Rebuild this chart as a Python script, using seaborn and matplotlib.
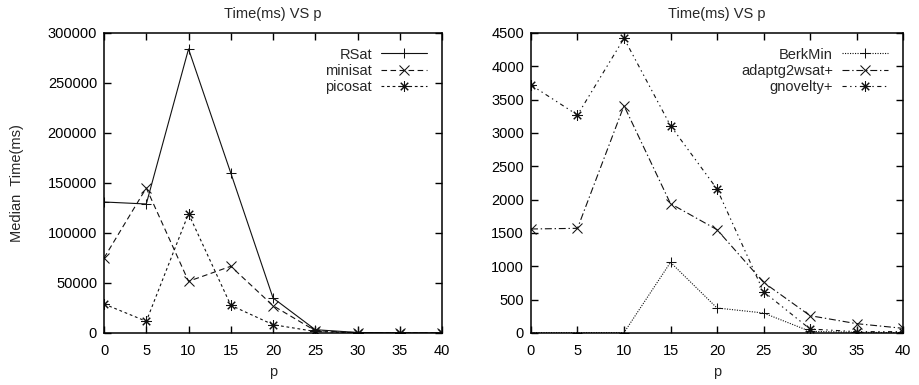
import matplotlib
matplotlib.use("Agg")
import matplotlib.pyplot as plt
import seaborn as sns

# p values shared by both panels
p = [0, 5, 10, 15, 20, 25, 30, 35, 40]

# complete solvers (ms)
rsat = [131000, 129000, 284000, 160000, 35000, 3300, 500, 100, 50]
minisat = [75000, 145000, 51700, 66700, 27300, 2300, 300, 100, 50]
picosat = [29000, 11700, 119300, 27700, 8300, 1500, 200, 100, 50]

# incomplete / local-search solvers (ms)
berkmin = [5, 5, 5, 1060, 375, 300, 25, 10, 5]
adaptg2wsat = [1560, 1570, 3410, 1940, 1550, 760, 260, 140, 70]
gnovelty = [3720, 3270, 4420, 3110, 2160, 620, 60, 20, 20]

left_yticks = [0, 50000, 100000, 150000, 200000, 250000, 300000]
right_yticks = [0, 500, 1000, 1500, 2000, 2500, 3000, 3500, 4000, 4500]
xticks = [0, 5, 10, 15, 20, 25, 30, 35, 40]

sns.set_style("ticks")
plt.rcParams["font.family"] = ["Liberation Sans", "DejaVu Sans"]
plt.rcParams["lines.scale_dashes"] = False

FS = 10.5
star = (8, 2, 0)

fig = plt.figure(figsize=(9.19, 3.85), dpi=100)
ax1 = fig.add_axes([0.1132, 0.1351, 0.3678, 0.7792])
ax2 = fig.add_axes([0.5778, 0.1351, 0.4048, 0.7792])

line_kw = dict(color="#111111", linewidth=0.8, markeredgewidth=0.75,
               markeredgecolor="#111111", markerfacecolor="#111111", markersize=7.5)

sns.lineplot(x=p, y=rsat, ax=ax1, label="RSat", marker="+", linestyle="-", **line_kw)
sns.lineplot(x=p, y=minisat, ax=ax1, label="minisat", marker="x",
             linestyle=(0, (4, 2.5)), **line_kw)
sns.lineplot(x=p, y=picosat, ax=ax1, label="picosat", marker=star,
             linestyle=(0, (2, 2)), **line_kw)

sns.lineplot(x=p, y=berkmin, ax=ax2, label="BerkMin", marker="+",
             linestyle=(0, (0.8, 1.0)), **line_kw)
sns.lineplot(x=p, y=adaptg2wsat, ax=ax2, label="adaptg2wsat+", marker="x",
             linestyle=(0, (5, 2, 1, 2)), **line_kw)
sns.lineplot(x=p, y=gnovelty, ax=ax2, label="gnovelty+", marker=star,
             linestyle=(0, (3, 2.5, 1, 2.5, 1, 2.5)), **line_kw)

for ax, ymax, yt in ((ax1, 300000, left_yticks), (ax2, 4500, right_yticks)):
    ax.set_xlim(0, 40)
    ax.set_ylim(0, ymax)
    ax.set_xticks(xticks)
    ax.set_yticks(yt)
    ax.set_xticklabels([str(v) for v in xticks], fontsize=FS)
    ax.set_yticklabels([str(v) for v in yt], fontsize=FS)
    ax.tick_params(axis="x", pad=8)
    ax.tick_params(direction="in", top=True, right=True, length=5, width=1.0,
                   colors="black")
    ax.tick_params(axis="y", pad=5)
    for s in ax.spines.values():
        s.set_visible(True)
        s.set_linewidth(1.1)
        s.set_color("black")
    ax.set_title("Time(ms) VS p", fontsize=FS, pad=11)
    ax.set_xlabel("p", fontsize=FS, labelpad=5)
    ax.set_ylabel("")
    ax.legend(loc="upper right", frameon=False, markerfirst=False,
              fontsize=FS, handlelength=3.2, handletextpad=0.6,
              labelspacing=0.15, borderaxespad=0.6)

ax1.set_ylabel("Median  Time(ms)", fontsize=FS, labelpad=17)

fig.savefig("out.png", dpi=100)
